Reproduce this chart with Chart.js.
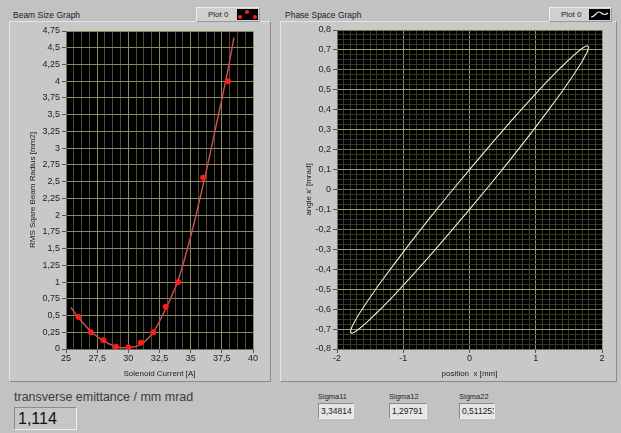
<!DOCTYPE html>
<html>
<head>
<meta charset="utf-8">
<script src="https://cdn.jsdelivr.net/npm/chart.js@4.4.0/dist/chart.umd.min.js"></script>
<style>
	body { margin: 0; width: 621px; height: 433px; background: #c2c2c2; font-family: "Liberation Sans", Arial, sans-serif; position: relative; overflow: hidden; color: #222; }
	.panel { position: absolute; background: #c8c8c8; border: 1px solid; border-color: #e4e4e4 #8a8a8a #8a8a8a #e4e4e4; box-sizing: border-box; }
	.caption { position: absolute; font-size: 8.5px; color: #222; white-space: nowrap; }
	.legend { position: absolute; top: 7px; height: 15px; background: #d0d0d0; border: 1px solid; border-color: #eeeeee #9a9a9a #9a9a9a #eeeeee; box-sizing: border-box; font-size: 8px; line-height: 13px; }
	.legend span { position: absolute; left: 11px; top: 0; }
	.swatch { position: absolute; right: 1px; top: 1px; width: 21px; height: 11px; background: #000; }
	.dot { position: absolute; width: 4px; height: 4px; border-radius: 2px; background: #ff2020; }
	canvas { position: absolute; }
	.field { position: absolute; box-sizing: border-box; border: 1px solid; border-color: #8a8a8a #eeeeee #eeeeee #8a8a8a; overflow: hidden; white-space: nowrap; }
	.small { position: absolute; font-size: 7.5px; color: #222; }
</style>
</head>
<body>
<div class="panel" style="left:9px; top:21px; width:262px; height:361px;"></div>
<div class="panel" style="left:280px; top:21px; width:337px; height:361px;"></div>

<div class="caption" style="left:13px; top:10px;">Beam Size Graph</div>
<div class="caption" style="left:285px; top:10px;">Phase Space Graph</div>

<div class="legend" style="left:196px; width:64px;">
	<span>Plot 0</span>
	<div class="swatch">
		<div class="dot" style="left:1px; top:6px;"></div>
		<div class="dot" style="left:8px; top:1px;"></div>
		<div class="dot" style="left:16px; top:6px;"></div>
	</div>
</div>
<div class="legend" style="left:549px; width:63px;">
	<span>Plot 0</span>
	<div class="swatch">
		<svg width="21" height="11"><path d="M2 8 C6 8 7 3 10 3 S14 8 19 4" stroke="#f0f0f0" stroke-width="1.2" fill="none"/></svg>
	</div>
</div>

<canvas id="beam" width="260" height="358" style="left:10px; top:22px;"></canvas>
<canvas id="phase" width="334" height="358" style="left:281px; top:22px;"></canvas>

<div style="position:absolute; left:14px; top:390px; font-size:12.5px; color:#3a3a3a;">transverse emittance / mm mrad</div>
<div class="field" style="left:14px; top:407px; width:63px; height:23px; background:#c6c6c6; font-size:16px; line-height:21px; padding-left:3px; color:#111;" id="emittance"></div>

<div class="small" style="left:318px; top:392px;">Sigma11</div>
<div class="small" style="left:389px; top:392px;">Sigma12</div>
<div class="small" style="left:459px; top:392px;">Sigma22</div>
<div class="field" style="left:318px; top:403px; width:36px; height:16px; background:#e6e6e6; font-size:8.5px; line-height:14px; padding-left:2px;" id="s11"></div>
<div class="field" style="left:389px; top:403px; width:38px; height:16px; background:#e6e6e6; font-size:8.5px; line-height:14px; padding-left:2px;" id="s12"></div>
<div class="field" style="left:459px; top:403px; width:36px; height:16px; background:#e6e6e6; font-size:8.5px; line-height:14px; padding-left:2px;" id="s22"></div>

<script>
// measured beam size vs solenoid current
const beamCurrent = [26, 27, 28, 29, 30, 31, 32, 33, 34, 36, 38]
const beamRadiusSq = [0.48, 0.25, 0.13, 0.035, 0.025, 0.095, 0.25, 0.63, 1.0, 2.56, 4.0]

// fitted curve
const fitCurrent = [25.4, 26, 27, 28, 29, 29.5, 30, 31, 32, 33, 34, 35, 36, 37, 38, 38.47]
const fitRadiusSq = [0.62, 0.47, 0.26, 0.12, 0.035, 0.018, 0.02, 0.07, 0.25, 0.6, 1.03, 1.68, 2.45, 3.3, 4.18, 4.65]

// phase space ellipse outline
const phaseX = [1.8, 1.773, 1.691, 1.559, 1.379, 1.157, 0.9, 0.616, 0.313, 0, -0.313, -0.616, -0.9, -1.157, -1.379, -1.559, -1.691, -1.773,
	-1.8, -1.773, -1.691, -1.559, -1.379, -1.157, -0.9, -0.616, -0.313, 0, 0.313, 0.616, 0.9, 1.157, 1.379, 1.559, 1.691, 1.773, 1.8]
const phaseAngle = [0.715, 0.687, 0.637, 0.569, 0.483, 0.383, 0.27, 0.15, 0.025, -0.1, -0.223, -0.339, -0.445, -0.537, -0.612, -0.669, -0.706, -0.722,
	-0.715, -0.687, -0.637, -0.569, -0.483, -0.383, -0.27, -0.15, -0.025, 0.1, 0.223, 0.339, 0.445, 0.537, 0.612, 0.669, 0.706, 0.722, 0.715]

// readouts
const emittance = "1,114"
const sigmaLabels = ["s11", "s12", "s22"]
const sigmaValues = ["3,34814", "1,29791", "0,511253"]

document.getElementById("emittance").textContent = emittance
sigmaLabels.forEach((id, i) => {
	document.getElementById(id).textContent = sigmaValues[i]
})

const font = { family: "'Liberation Sans', Arial, sans-serif", size: 9 }

function isMajor(v, step) {
	return Math.abs(v / step - Math.round(v / step)) < 1e-6
}
function fmt(v) {
	let r = Math.round(v * 1000) / 1000
	if (r === 0) r = 0
	return String(r).replace(".", ",")
}
function toPoints(xs, ys) {
	return xs.map((x, i) => ({ x: x, y: ys[i] }))
}

// black plot area behind the grid
const plotBackground = {
	id: "plotBackground",
	beforeDraw(chart) {
		const { ctx, chartArea: a } = chart
		ctx.save()
		ctx.fillStyle = "#000000"
		ctx.fillRect(a.left, a.top, a.right - a.left, a.bottom - a.top)
		ctx.restore()
	}
}

function axis(opts) {
	return {
		type: "linear",
		min: opts.min,
		max: opts.max,
		afterFit: opts.fit,
		border: { display: true, color: "#6e6e6e" },
		grid: {
			color: opts.gridColor,
			tickColor: ctx => (ctx.tick && isMajor(ctx.tick.value, opts.label)) ? "#555555" : "rgba(0,0,0,0)",
			tickLength: 4,
			lineWidth: 1
		},
		ticks: {
			stepSize: opts.step,
			autoSkip: false,
			maxTicksLimit: 1000,
			maxRotation: 0,
			minRotation: 0,
			padding: opts.pad,
			color: "#222222",
			font: font,
			callback: v => isMajor(v, opts.label) ? fmt(v) : ""
		},
		title: {
			display: true,
			text: opts.title,
			color: "#222222",
			font: { family: font.family, size: 8 },
			padding: opts.titlePad
		}
	}
}

new Chart(document.getElementById("beam"), {
	type: "scatter",
	data: {
		datasets: [
			{
				data: toPoints(beamCurrent, beamRadiusSq),
				backgroundColor: "#ff1c1c",
				borderColor: "#ff1c1c",
				pointRadius: 2.6,
				showLine: false
			},
			{
				data: toPoints(fitCurrent, fitRadiusSq),
				borderColor: "#cc5050",
				borderWidth: 1.4,
				pointRadius: 0,
				showLine: true,
				cubicInterpolationMode: "monotone"
			}
		]
	},
	options: {
		responsive: false,
		animation: false,
		layout: { padding: { left: 0, right: 17, top: 9, bottom: 0 } },
		plugins: { legend: { display: false }, tooltip: { enabled: false } },
		scales: {
			x: axis({
				min: 25, max: 40, step: 0.625, label: 2.5, pad: 0,
				fit: s => { s.height = 31 },
				gridColor: ctx => isMajor(ctx.tick.value, 2.5) ? "#8c8c5c" : "#4e4e34",
				title: "Solenoid Current [A]",
				titlePad: { top: 0, bottom: 1 }
			}),
			y: axis({
				min: 0, max: 4.75, step: 0.25, label: 0.25, pad: 2,
				fit: s => { s.width = 56 },
				gridColor: "#8a8a5c",
				title: "RMS Sqare Beam Radius [mm2]",
				titlePad: { top: 18, bottom: 0 }
			})
		}
	},
	plugins: [plotBackground]
})

new Chart(document.getElementById("phase"), {
	type: "scatter",
	data: {
		datasets: [
			{
				data: toPoints(phaseX, phaseAngle),
				borderColor: "#ececcc",
				borderWidth: 1.1,
				pointRadius: 0,
				showLine: true,
				tension: 0
			}
		]
	},
	options: {
		responsive: false,
		animation: false,
		layout: { padding: { left: 0, right: 13, top: 8, bottom: 0 } },
		plugins: { legend: { display: false }, tooltip: { enabled: false } },
		scales: {
			x: axis({
				min: -2, max: 2, step: 0.1, label: 1, pad: 0,
				fit: s => { s.height = 31 },
				gridColor: ctx => isMajor(ctx.tick.value, 1) ? "#94946a" : "#3c3c28",
				title: "position  x [mm]",
				titlePad: { top: 0, bottom: 1 }
			}),
			y: axis({
				min: -0.8, max: 0.8, step: 0.025, label: 0.1, pad: 2,
				fit: s => { s.width = 56 },
				gridColor: ctx => {
					const v = ctx.tick.value
					if (!isMajor(v, 0.1)) return "#383826"
					return isMajor(v, 0.2) ? "#74744e" : "#9a9a6c"
				},
				title: "angle x' [mrad]",
				titlePad: { top: 23, bottom: 0 }
			})
		}
	},
	plugins: [plotBackground]
})
</script>
</body>
</html>
